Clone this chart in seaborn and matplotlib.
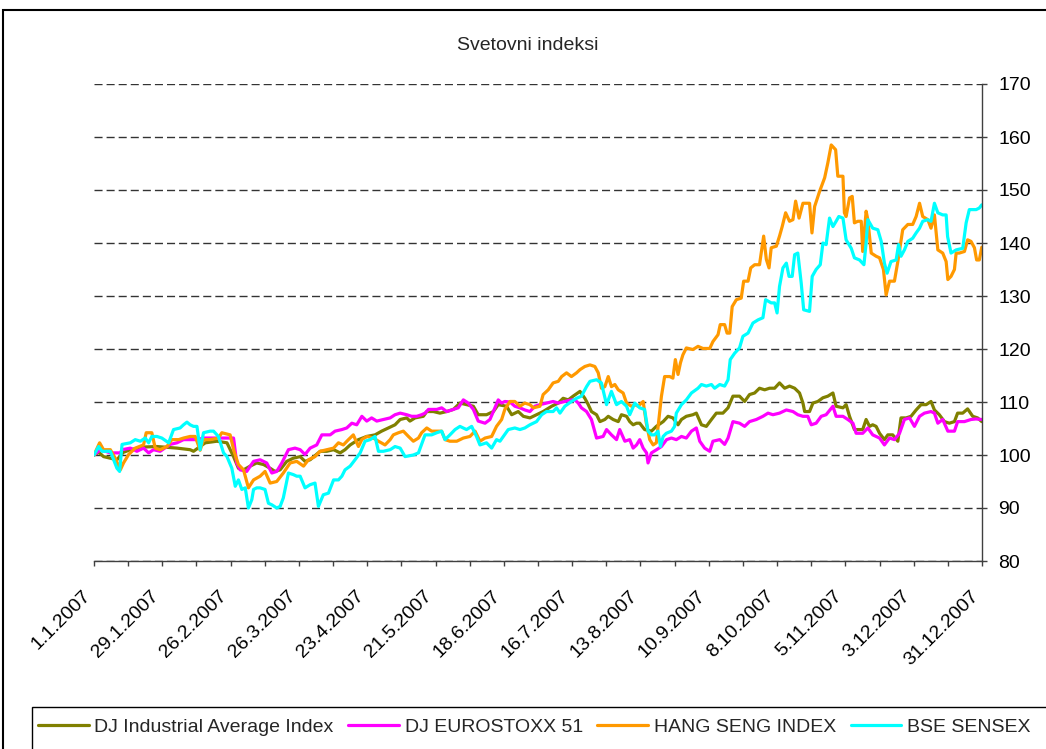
import pandas as pd
import matplotlib.pyplot as plt
import matplotlib.dates as mdates
from matplotlib.patches import Rectangle
import seaborn as sns

# days after 1.1.2007 and index level (1.1.2007 = 100)
dji_days = [0, 2, 3.9, 6.7, 9.4, 12, 15, 20, 25.8, 34, 39.4, 40.8, 43.5, 45.6, 50.4, 54.5, 57.2, 59.2, 61.3, 64,
            66.7, 69.5, 72.2, 74.2, 76.3, 79, 81.7, 84.5, 86.5, 88.6, 92.7, 95.4, 98.2, 100.9, 102.9, 105, 108.4,
            111.8, 115.2, 117.9, 120.7, 123.4, 125.5, 128.2, 129.5, 131.6, 135, 136.4, 139.1, 141.8, 144.6, 147.3,
            150, 152.7, 155.5, 157.5, 160.9, 163.7, 165.7, 169.1, 171.2, 173.9, 176, 178.7, 181.4, 184.1, 187.6,
            190.3, 192.3, 194.4, 196.4, 199.2, 201.2, 202.6, 203.9, 206, 207.4, 209.4, 210.8, 212.8, 214.9, 216.2,
            218.3, 219.6, 221, 222.4, 223.7, 225.7, 228.5, 230.5, 233.3, 235.3, 237.3, 239.4, 240.8, 242.8, 245.5,
            246.9, 249, 251, 253.1, 255.1, 257.8, 259.9, 261.9, 264.6, 266.7, 268.7, 270.8, 272.8, 274.9, 276.9,
            279, 281, 283.1, 285.1, 287.2, 289.2, 290.6, 291.3, 293.3, 294.7, 296.7, 298.8, 300.8, 302.9, 304.2,
            307, 308.3, 309.7, 311.7, 315.1, 316.5, 317.9, 319.2, 320.6, 322, 324, 325.4, 327.4, 329.5, 330.8,
            332.9, 334.9, 337, 339, 341.1, 343.1, 344.5, 346.5, 348.6, 350.6, 352.7, 354, 356.1, 358.1, 360.2,
            362.2, 363.9]
dji_vals = [100, 100.5, 99.7, 99.4, 99.1, 100.5, 101, 101.5, 101.6, 101.3, 101, 100.7, 101.6, 102.3, 102.6, 102.3,
            99.7, 97.5, 97.2, 97.9, 98.5, 98.2, 97.5, 96.9, 97.2, 98.8, 99.4, 99.7, 98.8, 99.1, 100.7, 100.7, 101,
            100.4, 101, 101.9, 102.9, 103.5, 103.8, 104.5, 105.1, 105.7, 106.7, 107, 106.4, 107, 107.3, 108.2,
            108.2, 107.9, 108.2, 108.6, 109.8, 109.5, 109.2, 107.6, 107.6, 108.2, 109.5, 109.2, 107.6, 108.2,
            107.3, 107, 107.6, 108.2, 109.2, 109.8, 110.7, 110.4, 111.1, 112, 110.7, 109.5, 108.2, 107.6, 106.3,
            106.7, 107.3, 106.7, 106.3, 107.6, 107.3, 106.3, 105.7, 106, 106, 104.8, 104.5, 105.4, 106.3, 107.3,
            107, 105.7, 106.7, 107.3, 107.6, 107.9, 105.7, 105.4, 106.7, 107.9, 107.9, 108.9, 111.1, 111.1, 110.1,
            111.4, 111.7, 112.6, 112.3, 112.6, 112.6, 113.6, 112.6, 113, 112.6, 111.7, 109.8, 108.2, 108.2, 109.8,
            110.1, 110.8, 111.1, 111.7, 109.2, 108.9, 109.5, 107.3, 104.8, 104.8, 106.7, 105.4, 105.7, 105.4,
            104.1, 102.9, 103.8, 103.8, 102.6, 107, 107, 107.3, 108.5, 109.5, 109.5, 110.1, 108.5, 107.6, 106.3,
            106, 106.3, 107.9, 107.9, 108.7, 107.3, 107, 106.3]

euro_days = [0, 2.6, 6.7, 10.8, 11.5, 14.9, 17.6, 20.3, 22.4, 24.4, 27.1, 31.2, 34, 36.7, 39.4, 42.2, 44.9, 50.4,
             55.8, 57.2, 58.5, 59.9, 62.6, 65.4, 68.1, 70.8, 72.9, 74.9, 77, 79.7, 82.4, 84.5, 86.5, 88.6, 91.3,
             93.4, 96.8, 98.8, 101.6, 103.6, 105.7, 107.7, 109.8, 111.8, 113.8, 115.9, 118.6, 121.4, 123.4, 125.5,
             128.2, 130.2, 132.3, 134.3, 135.7, 137.1, 140.5, 142.5, 144.6, 147.3, 149.3, 151.4, 153.4, 155.5,
             157.5, 160.3, 162.3, 163.7, 165.7, 167.1, 168.4, 170.5, 172.5, 174.6, 176.6, 178.7, 180.7, 182.8,
             185.5, 188.2, 190.3, 193, 195.7, 197.1, 198.5, 199.8, 201.9, 203.9, 206, 208.7, 210.1, 212.1, 214.2,
             215.5, 217.6, 219.6, 221, 222.4, 223.7, 225.1, 226.5, 227.1, 228.5, 230.6, 232.6, 234.7, 236.7, 238.7,
             240.8, 242.8, 244.9, 246.9, 248.3, 250.3, 252.4, 253.7, 256.5, 258.5, 259.9, 261.9, 264.6, 266.7,
             268.7, 271.5, 274.2, 276.3, 278.3, 281, 283.8, 286.5, 288.5, 290.6, 292.6, 294, 296, 298.1, 300.1,
             302.9, 304.2, 307, 309, 311.1, 312.4, 315.1, 317.2, 319.2, 322, 324, 326.1, 328.1, 330.2, 332.2,
             334.3, 336.3, 338.4, 340.4, 343.1, 344.5, 345.9, 347.9, 350, 352.7, 354, 356.8, 359.5, 361.5, 363.9]
euro_vals = [100, 101, 100.4, 100.4, 101, 101.3, 100.7, 101.3, 100.4, 101, 100.7, 102, 102.3, 102.9, 102.9, 102.9,
             103.2, 103.2, 103.2, 103.2, 98.5, 97.2, 96.9, 98.8, 99.1, 98.5, 96.6, 96.9, 98.5, 101, 101.3, 101,
             100.1, 101.3, 101.9, 103.8, 103.8, 104.5, 104.8, 105.1, 106, 105.7, 107.3, 106.4, 107, 106.4, 106.7,
             107, 107.6, 107.9, 107.6, 107.3, 107.3, 107.6, 107.9, 108.6, 108.6, 108.9, 108.2, 108.6, 108.9, 110.4,
             109.8, 108.6, 106.4, 106, 106.7, 108.2, 110.4, 109.8, 110.1, 110, 109.2, 108.9, 108.5, 108.2, 109.2,
             109.5, 109.8, 110.1, 109.8, 110.1, 110.4, 110.4, 109.8, 108.9, 108.2, 106.7, 103.2, 103.5, 104.8,
             103.8, 102.9, 104.8, 102.6, 102.9, 101.3, 101.9, 102.9, 101.3, 100.4, 98.5, 100.4, 101, 101.6, 102.9,
             103.2, 102.9, 103.5, 103.2, 104.5, 105.1, 102.6, 101.3, 100.7, 102.6, 102.9, 102, 103.2, 106.3, 106,
             105.4, 106.3, 106.7, 107.3, 107.9, 107.6, 107.9, 108.5, 108.2, 107.6, 107.3, 107.3, 105.7, 106, 107.3,
             107.6, 109.2, 107.3, 107.3, 106.7, 106, 104.1, 104.1, 105.1, 103.8, 103.2, 101.9, 103.2, 102.9, 104.1,
             106.7, 107, 105.4, 107.3, 107.9, 108.2, 107.9, 106, 106.7, 104.5, 104.5, 106.3, 106.3, 106.7, 106.8,
             106.7]

hsi_days = [0, 2.3, 3.9, 6.7, 8.7, 10.8, 12.1, 14.2, 16.9, 20.3, 21.4, 23.7, 25.1, 27.1, 29.9, 31.9, 34.7, 36.7,
            39.4, 41.5, 43.5, 44.9, 47.6, 51, 52.4, 55.8, 57.4, 59.2, 61.3, 63.3, 65.4, 68.1, 70.1, 72.2, 74.9,
            77.6, 80.4, 83.1, 85.9, 87.9, 90.6, 92.7, 95.4, 98.2, 100.2, 102.2, 104.3, 106.3, 108.4, 109.8, 111.8,
            114.5, 116.6, 119.3, 121.4, 122.7, 124.8, 126.8, 128.9, 130.9, 133, 134.3, 136.4, 138.4, 140.5, 142.5,
            143.9, 145.9, 148.7, 151.4, 154.1, 156.2, 158.2, 160.3, 163, 165, 167.1, 168.4, 170.5, 172.5, 174.6,
            176.6, 178.7, 180.1, 182.8, 184.1, 186.2, 188.2, 190.3, 191.7, 193.7, 195.7, 197.8, 199.2, 201.2,
            203.3, 205.3, 206.7, 208, 209.4, 210.8, 212.1, 213.5, 214.9, 216.9, 218.3, 220.3, 221.7, 223, 225.1,
            226.4, 227.8, 229.2, 230.5, 232.6, 233.9, 236, 237.3, 238.3, 239.4, 240.4, 241.4, 242.8, 245.5, 247.6,
            249.6, 252.4, 253.7, 255.8, 256.7, 258.5, 259.5, 260.6, 261.6, 263.3, 265.3, 266.3, 268.1, 269.2,
            270.8, 272.8, 274.5, 275.6, 276.7, 277.6, 279.7, 281, 282.1, 283.5, 285.1, 286.5, 287.6, 289, 290.6,
            293.3, 294.3, 295.4, 297.4, 299.5, 300.8, 302.2, 304, 304.9, 307, 307.6, 308.3, 309.7, 310.8, 311.7,
            313.1, 314.5, 315.1, 316.5, 317.2, 318.6, 320.6, 322, 323.6, 324.7, 326.1, 328.1, 329.5, 331.5, 333.6,
            335.6, 337, 338.4, 339.7, 341.8, 343.1, 344.5, 345.9, 347.9, 349.3, 350, 351.3, 352.7, 353.4, 354.7,
            356.8, 358.1, 359.5, 360.9, 361.8, 362.9, 363.9]
hsi_vals = [100, 102.3, 101, 101, 99.4, 97.2, 98.5, 100.1, 101.3, 101.9, 104.2, 104.2, 101.3, 101, 101.6, 102.9,
            102.9, 103.2, 103.5, 103.5, 100.9, 102.9, 102.9, 103.2, 104.2, 103.8, 100.7, 98.2, 97.2, 93.8, 95.3,
            96, 96.9, 94.7, 95, 96.6, 98.5, 98.8, 97.9, 99.1, 99.7, 100.7, 101, 101.3, 102.3, 101.9, 102.9, 103.8,
            101.6, 102.9, 103.5, 103.2, 102.6, 101.9, 102.9, 103.8, 104.2, 104.5, 103.5, 102.6, 103.2, 104.2,
            105.1, 104.5, 104.5, 104.5, 102.9, 102.6, 102.6, 103.2, 103.5, 104.5, 102.6, 103.2, 103.5, 105.4,
            106.7, 108.6, 110.1, 110.1, 109.2, 109.8, 109.5, 108.9, 109.2, 111.4, 112.3, 113.6, 113.9, 114.8,
            115.5, 114.8, 115.5, 116.1, 116.7, 117, 116.7, 115.5, 112.6, 112.9, 114.8, 112.9, 113.3, 112.3, 111.7,
            109.8, 109.2, 109.5, 109.2, 110.1, 106, 102.9, 101.9, 102.3, 111.1, 114.8, 114.8, 114.5, 118, 115.2,
            117.4, 118.9, 120.2, 119.9, 120.5, 120.1, 120.1, 121.4, 122.7, 124.6, 124.6, 123, 123, 128, 129.3,
            129.6, 132.8, 132.8, 135.3, 135.9, 135.9, 141.3, 136.9, 135.3, 139.1, 139.4, 141.3, 143.1, 145.7,
            144.1, 144.4, 147.9, 144.7, 147.5, 147.5, 141.9, 146.9, 149.7, 152.3, 155.1, 158.5, 157.6, 152.6,
            152.6, 145.7, 145, 148.5, 148.8, 143.8, 144.1, 144.1, 138.4, 146, 144.4, 138.1, 137.5, 137.2, 135,
            130.2, 132.8, 132.8, 136.5, 142.5, 143.5, 143.5, 145, 147.5, 145, 144.4, 142.8, 145.3, 138.7, 138.1,
            136.5, 133.1, 133.7, 135, 138.1, 138.1, 138.4, 140.6, 140.3, 139.1, 136.8, 136.8, 139.2]

bse_days = [0, 1.9, 3.3, 6.7, 9.4, 10.5, 11.5, 14.9, 16.9, 19, 21, 22.4, 23.7, 25.8, 27.8, 30.6, 32.6, 35.3, 36.7,
            38.1, 39.4, 40.8, 42.2, 43.5, 44.9, 47.6, 49, 51, 53.1, 54.5, 56.5, 57.9, 59.2, 60.6, 62, 63.3, 64.7,
            65.4, 66.7, 68.1, 70.1, 71.5, 72.9, 74.9, 76.3, 77.6, 79.7, 81.7, 83.1, 84.5, 86.5, 88.6, 90.6, 92,
            94, 96.1, 98.2, 100.2, 101.6, 102.9, 105, 107, 109.1, 111.1, 113.2, 115.2, 116.6, 118.6, 121.4, 123.4,
            125.5, 127.5, 130.9, 133, 135.7, 138.4, 140.5, 142.5, 143.9, 145.9, 148, 150, 152.7, 154.8, 156.8,
            158.2, 160.9, 163, 165, 166.4, 169.8, 172.5, 174.6, 176.6, 178.7, 181.4, 183.5, 185.5, 188.2, 189.6,
            191, 193, 195.7, 197.8, 199.8, 201.9, 203.3, 206, 208, 210.1, 212.1, 214.2, 216.2, 218.3, 219.6,
            221.7, 223.7, 225.7, 227.1, 228.5, 229.8, 231.2, 232.2, 233.3, 234.6, 236.7, 238, 238.7, 240.8, 242.8,
            244.9, 247.6, 249, 251, 253.1, 254.4, 256.5, 258.5, 259.9, 260.8, 262.6, 264.6, 266, 268.1, 270.1,
            272.2, 274.2, 275.3, 277.6, 279, 280, 281, 282.4, 283.8, 284.9, 286.2, 287.2, 288.5, 289.9, 290.9,
            293.3, 294.4, 296, 297.7, 298.8, 300.1, 301.5, 302.9, 304.2, 305.3, 307, 308.3, 310.4, 311.7, 313.8,
            315.6, 316.5, 317.2, 319.2, 321.3, 322.7, 324, 325.1, 326.7, 328.8, 329.8, 330.8, 332.2, 333.6, 335.6,
            337, 338.4, 339.7, 341.8, 343.1, 344.5, 345.9, 347.9, 349.3, 349.9, 351.3, 353.4, 356.1, 357.5, 358.8,
            361.6, 362.9, 363.9]
bse_vals = [100, 101.6, 100.7, 100.7, 97.5, 96.9, 102, 102.3, 102.9, 102.6, 103.2, 102.3, 103.5, 103.5, 103.2,
            102.3, 104.8, 105.1, 105.7, 106.2, 105.7, 105.4, 105.4, 101, 104.2, 104.5, 104.5, 103.5, 100.4, 99.7,
            97.5, 94.1, 95.3, 93.5, 93.8, 90, 91.6, 93.5, 93.8, 93.8, 93.5, 90.9, 90.6, 90, 90.3, 91.9, 96.6, 96.3,
            96, 96, 93.8, 94.4, 94.7, 90.3, 92.5, 92.8, 95.3, 95.3, 96, 97.2, 97.9, 99.1, 100.4, 102.6, 102.9,
            103.5, 100.7, 100.7, 101, 101.6, 101.3, 99.7, 100, 100.4, 103.8, 103.8, 104.2, 104.5, 102.9, 103.8,
            104.8, 105.4, 104.8, 105.4, 103.5, 101.9, 102.3, 101.3, 102.9, 102.6, 104.8, 105.1, 104.8, 105.1,
            105.7, 106.3, 107.6, 108.2, 108.2, 108.9, 107.9, 109.2, 110.1, 110.7, 111.1, 112.9, 113.9, 114.2,
            113.6, 109.5, 112, 109.5, 110.1, 109.2, 107.6, 109.8, 108.9, 108.6, 104.5, 103.8, 103.8, 104.5, 101.6,
            103.5, 104.1, 104.5, 105.4, 107.9, 109.5, 110.4, 111.7, 112.6, 113.3, 113, 113.3, 112.6, 113.3, 113,
            114.2, 118, 119.2, 120.2, 122.4, 123, 124.9, 125.5, 125.9, 129.3, 128.7, 128.7, 126.8, 131.8, 135.3,
            136.2, 133.7, 133.7, 137.8, 138.1, 132.4, 127.4, 127.1, 133.7, 135, 135.9, 140, 139.7, 144.7, 143.1,
            144.1, 145, 144.7, 140.6, 139, 137.2, 136.8, 135.9, 140, 144.4, 142.8, 142.5, 140.3, 136.2, 134.3,
            136.5, 136.8, 139.7, 137.5, 138.7, 140.3, 140.9, 141.9, 142.8, 144.1, 144.4, 144.1, 147.5, 145.7,
            145.3, 145.3, 141.2, 138.1, 138.7, 139, 143.8, 146.3, 146.3, 146.6, 147.2]

names = ["DJ Industrial Average Index", "DJ EUROSTOXX 51", "HANG SENG INDEX", "BSE SENSEX"]
colors = ["#808000", "#FF00FF", "#FF9900", "#00FFFF"]

start = pd.Timestamp("2007-01-01")
end = pd.Timestamp("2007-12-31")

frames = []
for name, days, vals in zip(names, [dji_days, euro_days, hsi_days, bse_days],
                            [dji_vals, euro_vals, hsi_vals, bse_vals]):
    frames.append(pd.DataFrame({
        "date": start + pd.to_timedelta(days, unit="D"),
        "value": vals,
        "index": name,
    }))
df = pd.concat(frames, ignore_index=True)

sns.set_style("white")
plt.rcParams["font.family"] = ["Liberation Sans", "DejaVu Sans"]

fig = plt.figure(figsize=(10.46, 7.49), dpi=100)
ax = fig.add_axes([94 / 1046, 1 - 561 / 749, 888 / 1046, 477 / 749])

sns.lineplot(data=df, x="date", y="value", hue="index", hue_order=names,
             palette=colors, linewidth=2.3, estimator=None, ax=ax)

ax.set_xlim(mdates.date2num(start), mdates.date2num(end))
ax.set_ylim(80, 170)
ax.set_yticks(range(80, 171, 10))
ax.yaxis.tick_right()
ax.set_xlabel("")
ax.set_ylabel("")

major = pd.date_range(start, periods=14, freq="28D")
minor = pd.date_range(start + pd.Timedelta(days=14), periods=13, freq="28D")
ax.set_xticks(mdates.date2num(major))
ax.set_xticks(mdates.date2num(minor), minor=True)
# anchored at the bottom-right corner so the slanted text sits a bit left of its tick, as in Excel
ax.set_xticklabels([f"{d.day}.{d.month}.{d.year}" for d in major],
                   rotation=45, ha="right", va="bottom", rotation_mode="anchor")

# dashed horizontal gridlines
ax.yaxis.grid(True, color="#333333", linestyle=(0, (5.8, 2.9)), linewidth=1)
ax.xaxis.grid(False)

for side in ["top", "left"]:
    ax.spines[side].set_visible(False)
for side in ["right", "bottom"]:
    ax.spines[side].set_color("#404040")
    ax.spines[side].set_linewidth(1)

ax.tick_params(axis="both", which="both", direction="out", length=3.6, width=1,
               color="#404040", labelsize=14, labelcolor="black")
ax.tick_params(axis="x", which="both", bottom=True, pad=24)
ax.tick_params(axis="y", left=False, right=True, pad=8)

fig.text(0.505, 1 - 45 / 749, "Svetovni indeksi", ha="center", va="center", fontsize=14)

handles, labels = ax.get_legend_handles_labels()
ax.get_legend().remove()
fig.legend(handles, labels, loc="center left", bbox_to_anchor=(38 / 1046, 1 - 727 / 749),
           ncol=4, frameon=False, fontsize=14, handlelength=2.6, handletextpad=0.3,
           columnspacing=0.75, borderpad=0, borderaxespad=0)

# legend box, running off the right and bottom edges like in the original
fig.add_artist(Rectangle((31.7 / 1046, -0.1), 1.1, 1 - 707 / 749 + 0.1, transform=fig.transFigure,
                         fill=False, edgecolor="black", linewidth=1))

# outer chart border
fig.add_artist(Rectangle((3 / 1046, -0.05), 1.1, 1 - 10 / 749 + 0.05, transform=fig.transFigure,
                         fill=False, edgecolor="black", linewidth=1.5))

fig.savefig("out.png", dpi=100)
